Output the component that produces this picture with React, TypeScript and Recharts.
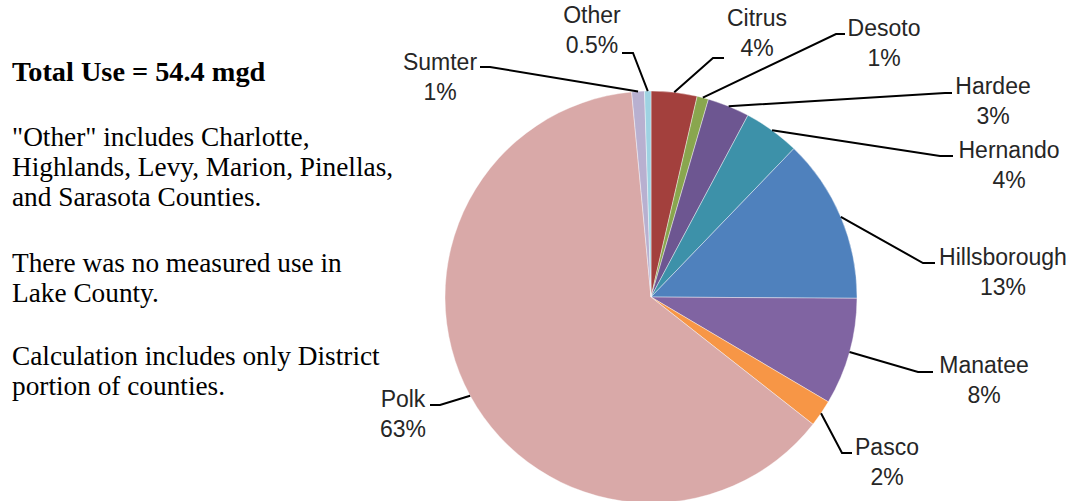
import React from "react";
import { PieChart, Pie, Cell } from "recharts";

const counties = ["Citrus", "Desoto", "Hardee", "Hernando", "Hillsborough", "Manatee", "Pasco", "Polk", "Sumter", "Other"];
const sharePct = [3.6, 0.9, 3.3, 4.4, 12.9, 8.4, 2.1, 62.9, 1.0, 0.5];
const shareLabels = ["4%", "1%", "3%", "4%", "13%", "8%", "2%", "63%", "1%", "0.5%"];
const colors = ["#A3403D", "#89A64E", "#6D5691", "#3D91A9", "#4F81BD", "#8064A2", "#F79646", "#D9A9A8", "#B8B0D0", "#9ED2E2"];

const noteLines = [
  { text: "Total Use = 54.4 mgd", bold: true },
  { text: "", bold: false },
  { text: "\"Other\" includes Charlotte,", bold: false },
  { text: "Highlands, Levy, Marion, Pinellas,", bold: false },
  { text: "and Sarasota Counties.", bold: false },
  { text: "", bold: false },
  { text: "There was no measured use in", bold: false },
  { text: "Lake County.", bold: false },
  { text: "", bold: false },
  { text: "Calculation includes only District", bold: false },
  { text: "portion of counties.", bold: false },
];

const data = counties.map((name, i) => ({ name, value: sharePct[i], label: shareLabels[i] }));

// label layout offsets relative to pie centre: elbow (ex,ey), horizontal end (hx), text centre (tx, ty)
const LABEL_LAYOUT = [
  { ex: 62, ey: -239, hx: 73, tx: 106, ty: -279 },
  { ex: 185, ey: -263, hx: 194, tx: 233, ty: -269 },
  { ex: 294, ey: -204, hx: 301, tx: 342, ty: -211 },
  { ex: 289, ey: -141, hx: 302, tx: 358, ty: -147 },
  { ex: 272, ey: -34, hx: 284, tx: 352, ty: -40 },
  { ex: 267, ey: 75, hx: 282, tx: 333, ty: 68 },
  { ex: 191, ey: 156, hx: 201, tx: 236, ty: 150 },
  { ex: -211, ey: 108, hx: -221, tx: -248, ty: 102 },
  { ex: -161, ey: -230, hx: -171, tx: -211, ty: -235 },
  { ex: -18, ey: -244, hx: -29, tx: -59, ty: -282 },
];

const RAD = Math.PI / 180;
const LABEL_FONT = "'Liberation Sans', Arial, sans-serif";

const renderLabel = (props: any) => {
  const { cx, cy, midAngle, outerRadius, index } = props;
  const lay = LABEL_LAYOUT[index];
  const entry = data[index];
  const sx = cx + outerRadius * Math.cos(-midAngle * RAD);
  const sy = cy + outerRadius * Math.sin(-midAngle * RAD);
  const ex = cx + lay.ex;
  const ey = cy + lay.ey;
  const hx = cx + lay.hx;
  return (
    <g key={`lbl-${index}`}>
      <path d={`M${sx},${sy}L${ex},${ey}L${hx},${ey}`} stroke="#000" strokeWidth={2} fill="none" />
      <text
        x={cx + lay.tx}
        y={cy + lay.ty}
        textAnchor="middle"
        dominantBaseline="central"
        fontFamily={LABEL_FONT}
        fontSize={23}
        fill="#262626"
      >
        {entry.name}
      </text>
      <text
        x={cx + lay.tx}
        y={cy + lay.ty + 30}
        textAnchor="middle"
        dominantBaseline="central"
        fontFamily={LABEL_FONT}
        fontSize={23}
        fill="#262626"
      >
        {entry.label}
      </text>
    </g>
  );
};

export default function App() {
  const baselines = [81, 0, 146, 176, 206, 0, 272, 302, 0, 365, 395];
  return (
    <div style={{ position: "absolute", left: 0, top: 0, width: 1075, height: 501, background: "#fff" }}>
      <svg width={400} height={501} style={{ position: "absolute", left: 0, top: 0 }}>
        {noteLines.map((l, i) =>
          l.text ? (
            <text
              key={i}
              x={12}
              y={baselines[i]}
              fontFamily="'Liberation Serif', 'Times New Roman', serif"
              fontSize={l.bold ? 28.3 : 27.3}
              fontWeight={l.bold ? "bold" : "normal"}
              fill="#000"
            >
              {l.text}
            </text>
          ) : null
        )}
      </svg>
      <div style={{ position: "absolute", left: 0, top: 0 }}>
        <PieChart width={1075} height={501} margin={{ top: 0, right: 0, bottom: 0, left: 0 }}>
          <Pie
            data={data}
            dataKey="value"
            nameKey="name"
            cx={651}
            cy={297}
            outerRadius={206}
            startAngle={90}
            endAngle={-270}
            stroke="#ffffff"
            strokeWidth={0.4}
            label={renderLabel}
            labelLine={false}
            isAnimationActive={false}
          >
            {data.map((d, i) => (
              <Cell key={d.name} fill={colors[i]} />
            ))}
          </Pie>
        </PieChart>
      </div>
    </div>
  );
}
